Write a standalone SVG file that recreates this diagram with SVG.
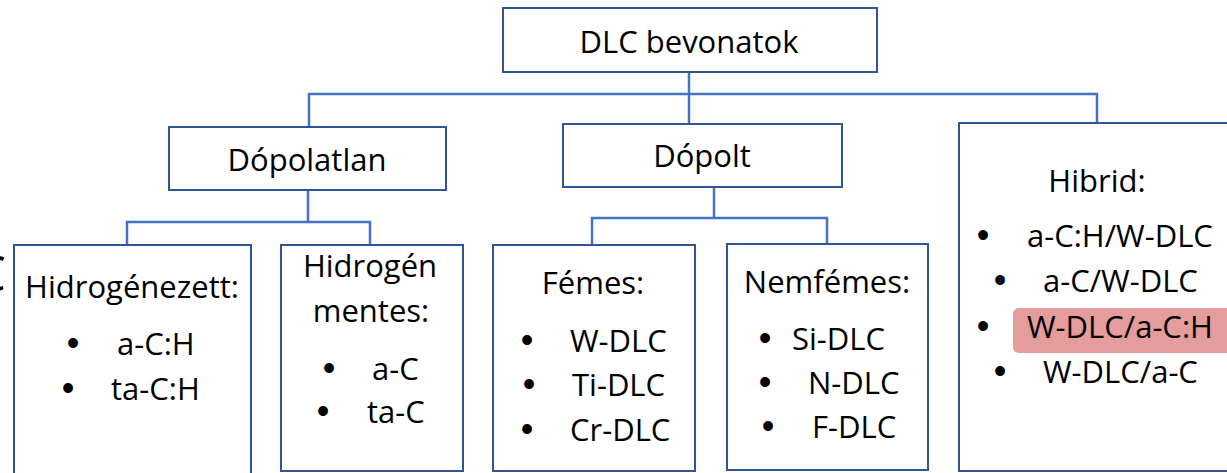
<svg xmlns="http://www.w3.org/2000/svg" width="1227" height="473" viewBox="0 0 1227 473">
<style>
.box{fill:#ffffff;stroke:#2F5597;stroke-width:2}
.conn{fill:none;stroke:#4472C4;stroke-width:2.5}
text{font-family:"Open Sans","Liberation Sans",sans-serif;font-size:31px;fill:#000000}
.c{text-anchor:middle}
.s{text-anchor:start}
.b{text-anchor:middle;font-family:"Liberation Sans",sans-serif;font-size:36px}
.hl{fill:#E59C9C}
</style>
<rect width="1227" height="473" fill="#ffffff"/>
<g id="connectors">
<path class="conn" d="M689,72 V124"/>
<path class="conn" d="M309,127 V94 H1097 V123"/>
<path class="conn" d="M308,190 V222"/>
<path class="conn" d="M127,245 V222 H370 V245"/>
<path class="conn" d="M714,187 V218"/>
<path class="conn" d="M592,245 V218 H827 V244"/>
</g>
<text x="6" y="291" style="font-size:50px;text-anchor:end">C</text>
<g id="root">
<rect class="box" x="503" y="8" width="374" height="64"/>
<text class="c" x="689" y="53">DLC bevonatok</text>
</g>
<g id="dopolatlan">
<rect class="box" x="169" y="127" width="277" height="63"/>
<text class="c" x="307" y="171">Dópolatlan</text>
</g>
<g id="dopolt">
<rect class="box" x="563" y="124" width="279" height="63"/>
<text class="c" x="702" y="167">Dópolt</text>
</g>
<g id="hibrid">
<rect class="box" x="959" y="123" width="280" height="348"/>
<text class="c" x="1097" y="192">Hibrid:</text>
<rect class="hl" x="1013" y="308" width="230" height="45" rx="6"/>
<text class="b" x="983" y="247">•</text>
<text class="s" x="1027" y="247">a-C:H/W-DLC</text>
<text class="b" x="1000" y="292">•</text>
<text class="s" x="1043" y="292">a-C/W-DLC</text>
<text class="b" x="983" y="338">•</text>
<text class="s" x="1027" y="338">W-DLC/a-C:H</text>
<text class="b" x="1000" y="383">•</text>
<text class="s" x="1043" y="383">W-DLC/a-C</text>
</g>
<g id="hidrogenezett">
<rect class="box" x="14" y="245" width="237" height="240"/>
<text class="c" x="132" y="298">Hidrogénezett:</text>
<text class="b" x="73" y="355">•</text>
<text class="s" x="117" y="355">a-C:H</text>
<text class="b" x="68" y="400">•</text>
<text class="s" x="111" y="400">ta-C:H</text>
</g>
<g id="hidrogenmentes">
<rect class="box" x="281" y="245" width="182" height="226"/>
<text class="c" x="370" y="277">Hidrogén</text>
<text class="c" x="371" y="322">mentes:</text>
<text class="b" x="329" y="380">•</text>
<text class="s" x="372" y="380">a-C</text>
<text class="b" x="323" y="423">•</text>
<text class="s" x="367" y="423">ta-C</text>
</g>
<g id="femes">
<rect class="box" x="493" y="245" width="202" height="226"/>
<text class="c" x="593" y="294">Fémes:</text>
<text class="b" x="527" y="352">•</text>
<text class="s" x="570" y="352">W-DLC</text>
<text class="b" x="529" y="396">•</text>
<text class="s" x="572" y="396">Ti-DLC</text>
<text class="b" x="527" y="441">•</text>
<text class="s" x="570" y="441">Cr-DLC</text>
</g>
<g id="nemfemes">
<rect class="box" x="727" y="244" width="201" height="226"/>
<text class="c" x="827" y="293">Nemfémes:</text>
<text class="b" x="765" y="350">•</text>
<text class="s" x="792" y="350">Si-DLC</text>
<text class="b" x="765" y="394">•</text>
<text class="s" x="808" y="394">N-DLC</text>
<text class="b" x="768" y="438">•</text>
<text class="s" x="812" y="438">F-DLC</text>
</g>
</svg>
